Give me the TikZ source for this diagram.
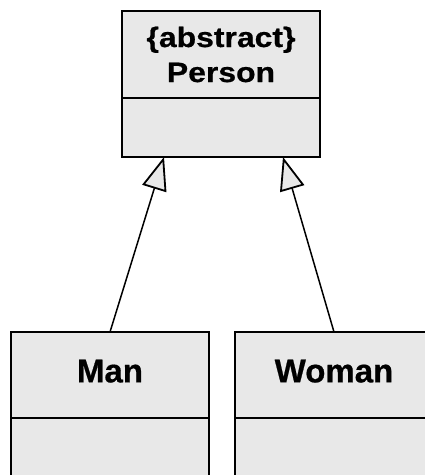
\documentclass[tikz,border=0pt]{standalone}
\usepackage{fontspec}
\setmainfont{Liberation Sans}[BoldFeatures={FakeBold=0.6}]
\usepackage{tikz}
\usetikzlibrary{arrows.meta,positioning,calc}
\definecolor{grisClasse}{RGB}{232,232,232}

\tikzset{
  classhead/.style={draw=black, fill=grisClasse, line width=2pt, minimum width=198pt, outer sep=0pt,
                    inner sep=0pt, align=center, font=\bfseries\fontsize{33}{35}\selectfont},
  classbody/.style={draw=black, fill=grisClasse, line width=2pt, minimum width=198pt, outer sep=0pt, inner sep=0pt},
  herite/.style={line width=1.5pt, -{Triangle[length=33pt, width=25pt, fill=grisClasse, line width=1.8pt]}}
}

\begin{document}
\begin{tikzpicture}[x=1pt, y=-1pt]

\useasboundingbox (0,0) rectangle (425,475);
\clip (0,0) rectangle (425,475);
\fill[white] (0,0) rectangle (425,475);

% classe abstraite
\node[classhead, minimum height=87pt, font=\bfseries\fontsize{28}{35}\selectfont] (person) at (221,54.5)
  {\scalebox{1.14}[1]{\{abstract\}}\\\scalebox{1.14}[1]{Person}};
\node[classbody, minimum height=59pt, below=0pt of person] (personbody) {};

% sous-classes
\node[classhead, minimum height=86pt, text depth=8pt] (man) at (110,375) {Man};
\node[classbody, minimum height=80pt, below=0pt of man] (manbody) {};

\node[classhead, minimum height=86pt, text depth=8pt] (woman) at (334,375) {Woman};
\node[classbody, minimum height=80pt, below=0pt of woman] (womanbody) {};

\draw[herite] (man.north) -- ($(personbody.south)+(-57,0)$);
\draw[herite] (woman.north) -- ($(personbody.south)+(62,0)$);

\end{tikzpicture}
\end{document}
